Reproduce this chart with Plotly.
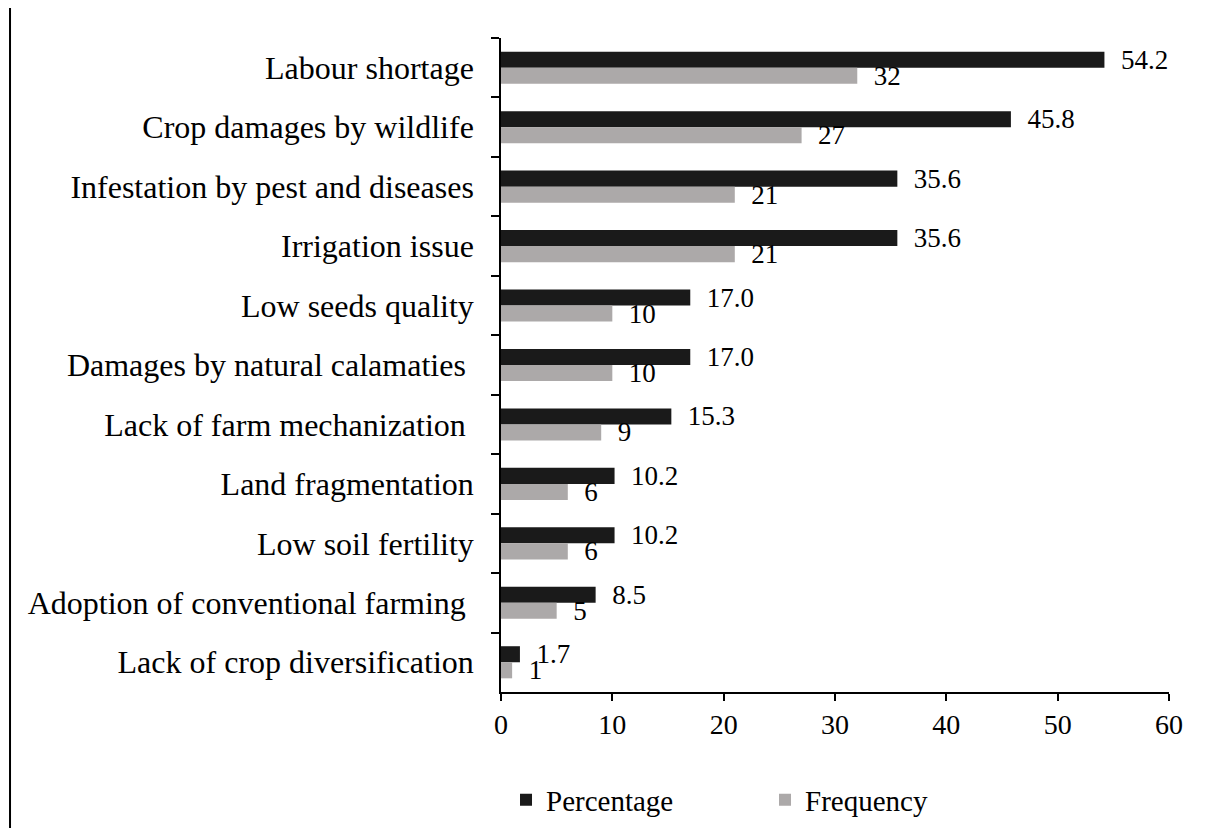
import plotly.graph_objects as go

categories = [
    "Labour shortage",
    "Crop damages by wildlife",
    "Infestation by pest and diseases",
    "Irrigation issue",
    "Low seeds quality",
    "Damages by natural calamaties\u00a0",
    "Lack of farm mechanization\u00a0",
    "Land fragmentation",
    "Low soil fertility",
    "Adoption of conventional farming\u00a0",
    "Lack of crop diversification",
]
percentage = [54.2, 45.8, 35.6, 35.6, 17.0, 17.0, 15.3, 10.2, 10.2, 8.5, 1.7]
frequency = [32, 27, 21, 21, 10, 10, 9, 6, 6, 5, 1]
x_ticks = [0, 10, 20, 30, 40, 50, 60]

FONT = "Liberation Serif, Times New Roman, serif"

fig = go.Figure()
fig.add_trace(go.Bar(
    y=categories, x=percentage, orientation="h", name="Percentage",
    marker=dict(color="#1a1a1a", line=dict(width=0)),
    text=percentage, texttemplate="\u00a0\u00a0%{x:.1f}", textposition="outside",
    textfont=dict(family=FONT, size=27, color="black"),
    constraintext="none", cliponaxis=False,
))
fig.add_trace(go.Bar(
    y=categories, x=frequency, orientation="h", name="Frequency",
    marker=dict(color="#aca9a9", line=dict(width=0)),
    text=frequency, texttemplate="\u00a0\u00a0%{x}", textposition="outside",
    textfont=dict(family=FONT, size=27, color="black"),
    constraintext="none", cliponaxis=False,
))

fig.update_layout(
    width=1209, height=828,
    margin=dict(l=493, r=48, t=30, b=144, autoexpand=False),
    paper_bgcolor="white", plot_bgcolor="white",
    barmode="group", bargap=0.46, bargroupgap=0,
    font=dict(family=FONT, size=27, color="black"),
    legend=dict(orientation="h", x=0.0075, xanchor="left", y=-0.165, yanchor="middle",
                entrywidth=214, entrywidthmode="pixels",
                font=dict(family=FONT, size=29, color="black"), traceorder="normal"),
    showlegend=True,
)
fig.update_xaxes(
    range=[0, 60], tickvals=x_ticks, showgrid=False, zeroline=False,
    showline=True, linecolor="black", linewidth=1.5,
    ticks="outside", ticklen=7, tickcolor="black", tickwidth=1.5,
    tickfont=dict(family=FONT, size=28, color="black"),
)
fig.update_yaxes(
    autorange="reversed", showgrid=False, zeroline=False,
    showline=True, linecolor="black", linewidth=1.5,
    ticks="outside", ticklen=8, tickcolor="black", tickwidth=1.5,
    tickson="boundaries", ticklabelstandoff=19,
    tickfont=dict(family=FONT, size=32, color="black"),
)
fig.add_shape(type="line", xref="paper", yref="paper",
              x0=-0.735, x1=-0.735, y0=1.046, y1=-0.21,
              line=dict(color="black", width=2))

fig.write_html("out.html")
